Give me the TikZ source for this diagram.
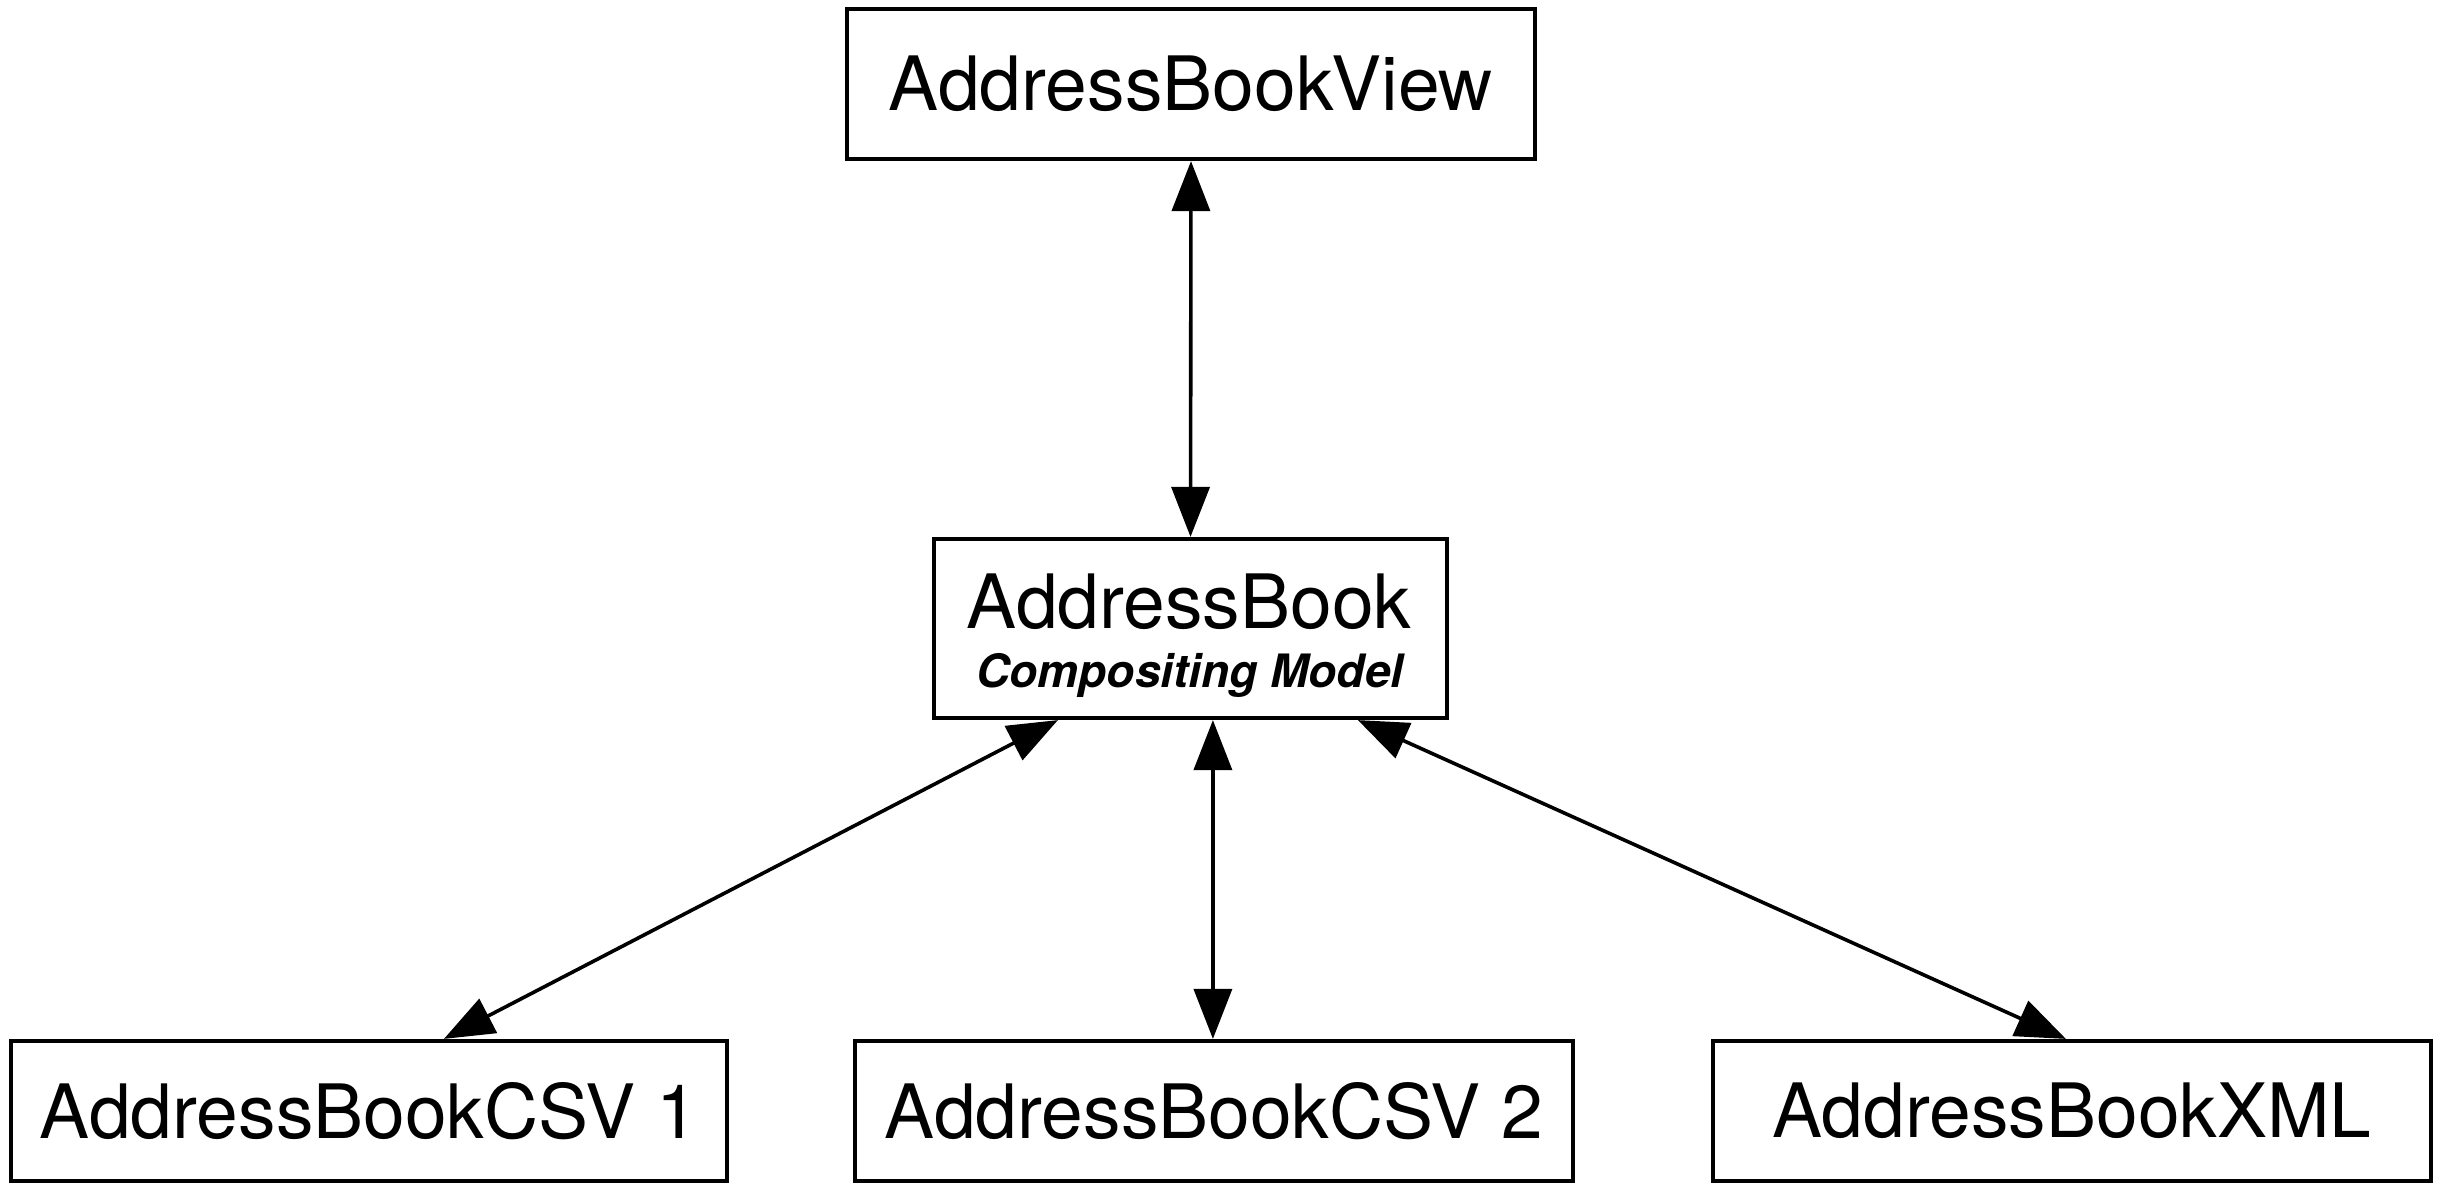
\documentclass[tikz,border=0pt]{standalone}
\usepackage{fontspec}
\setmainfont{TeX Gyre Heros}
\usetikzlibrary{arrows.meta}
\tikzset{
  box/.style={draw=black, line width=2.1pt, fill=white, inner sep=0pt, font=\fontsize{37.5pt}{45pt}\selectfont},
  conn/.style={line width=1.8pt, {Triangle[length=25pt,width=19pt]}-{Triangle[length=25pt,width=19pt]}},
}
\begin{document}
\begin{tikzpicture}[x=0.5pt, y=-0.5pt]
\useasboundingbox (0,0) rectangle (2437,1187);
\node[box, minimum width=344pt, minimum height=75pt] (view) at (1191,84) {AddressBookView};
\node[box, minimum width=256.5pt, minimum height=89.5pt] (model) at (1190.5,628.5) {};
\node[anchor=base, inner sep=0pt, font=\fontsize{37.5pt}{45pt}\selectfont] (modelname) at (1189,628) {AddressBook};
\node[anchor=base, inner sep=0pt, font=\fontsize{23pt}{28pt}\selectfont\bfseries\itshape] (modelsub) at (1190,687) {Compositing Model};
\node[box, minimum width=358pt, minimum height=70pt] (csv1) at (369,1111) {AddressBookCSV 1};
\node[box, minimum width=359pt, minimum height=70pt] (csv2) at (1214,1111) {AddressBookCSV 2};
\node[box, minimum width=359pt, minimum height=70pt] (xml) at (2072,1111) {AddressBookXML};
\draw[conn] (view.south) -- (model.north);
\draw[conn] ([xshift=63pt]model.south west) -- ([xshift=217.5pt]csv1.north west);
\draw[conn] ([xshift=140.5pt]model.south west) -- ([xshift=180pt]csv2.north west);
\draw[conn] ([xshift=213pt]model.south west) -- ([xshift=177.5pt]xml.north west);
\end{tikzpicture}
\end{document}
